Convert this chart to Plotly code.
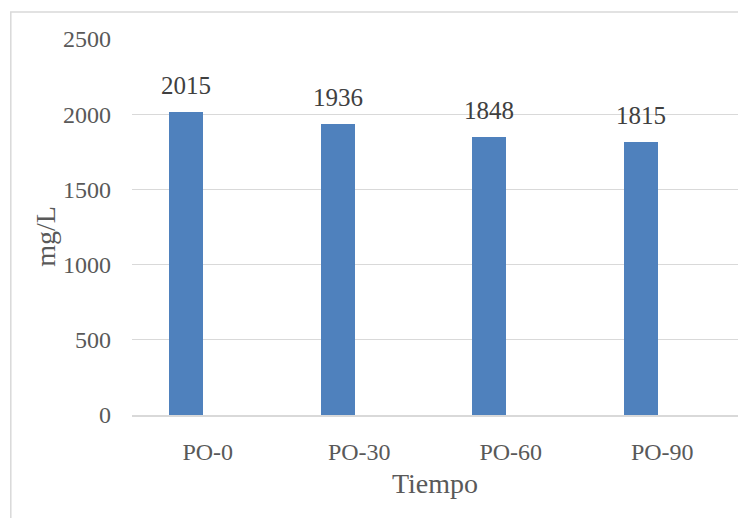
import plotly.graph_objects as go

# Concentration per sampling time
categories = ["PO-0", "PO-30", "PO-60", "PO-90"]
values = [2015, 1936, 1848, 1815]
y_ticks = [0, 500, 1000, 1500, 2000, 2500]

BAR_COLOR = "#4F81BD"
FONT = "Liberation Serif"
BAR_WIDTH = 0.224
BAR_OFFSET = -0.254
LABEL_SHIFT_PX = -21.5

fig = go.Figure()
fig.add_trace(go.Bar(
    x=categories,
    y=values,
    width=BAR_WIDTH,
    offset=BAR_OFFSET,
    marker=dict(color=BAR_COLOR, line=dict(width=0)),
    hoverinfo="x+y",
    showlegend=False,
))

# value labels above each bar
for c, v in zip(categories, values):
    fig.add_annotation(
        x=c, y=v, xref="x", yref="y",
        text=str(v), showarrow=False,
        xshift=LABEL_SHIFT_PX, yanchor="bottom", yshift=11,
        font=dict(family=FONT, size=25, color="#404040"),
    )

# y-axis title
fig.add_annotation(
    x=-0.143, y=0.475, xref="paper", yref="paper",
    text="mg/L", textangle=-90, showarrow=False,
    xanchor="center", yanchor="middle",
    font=dict(family=FONT, size=28, color="#595959"),
)

# chart frame (extends past the right and bottom edges)
fig.add_shape(
    type="rect", xref="paper", yref="paper",
    x0=-0.2, x1=1.2, y0=-0.6, y1=1.0717,
    line=dict(color="#d9d9d9", width=1.5), fillcolor="rgba(0,0,0,0)",
    layer="below",
)

fig.update_layout(
    width=738, height=518,
    margin=dict(l=132, r=0, t=38.5, b=103),
    paper_bgcolor="white", plot_bgcolor="white",
    bargap=0,
    font=dict(family=FONT, color="#595959"),
    xaxis=dict(
        type="category",
        range=[-0.5, 3.5],
        showgrid=False,
        showline=True, linecolor="#d9d9d9", linewidth=1.5,
        ticks="", ticklabelstandoff=14,
        tickfont=dict(family=FONT, size=24, color="#595959"),
        title=dict(text="Tiempo", font=dict(family=FONT, size=28, color="#595959"), standoff=10),
    ),
    yaxis=dict(
        range=[0, 2500],
        tickvals=y_ticks,
        showgrid=True, gridcolor="#d9d9d9", gridwidth=1,
        zeroline=False, showline=False,
        ticks="", ticklabelstandoff=20,
        tickfont=dict(family=FONT, size=24, color="#595959"),
    ),
)

fig.write_html("out.html")
